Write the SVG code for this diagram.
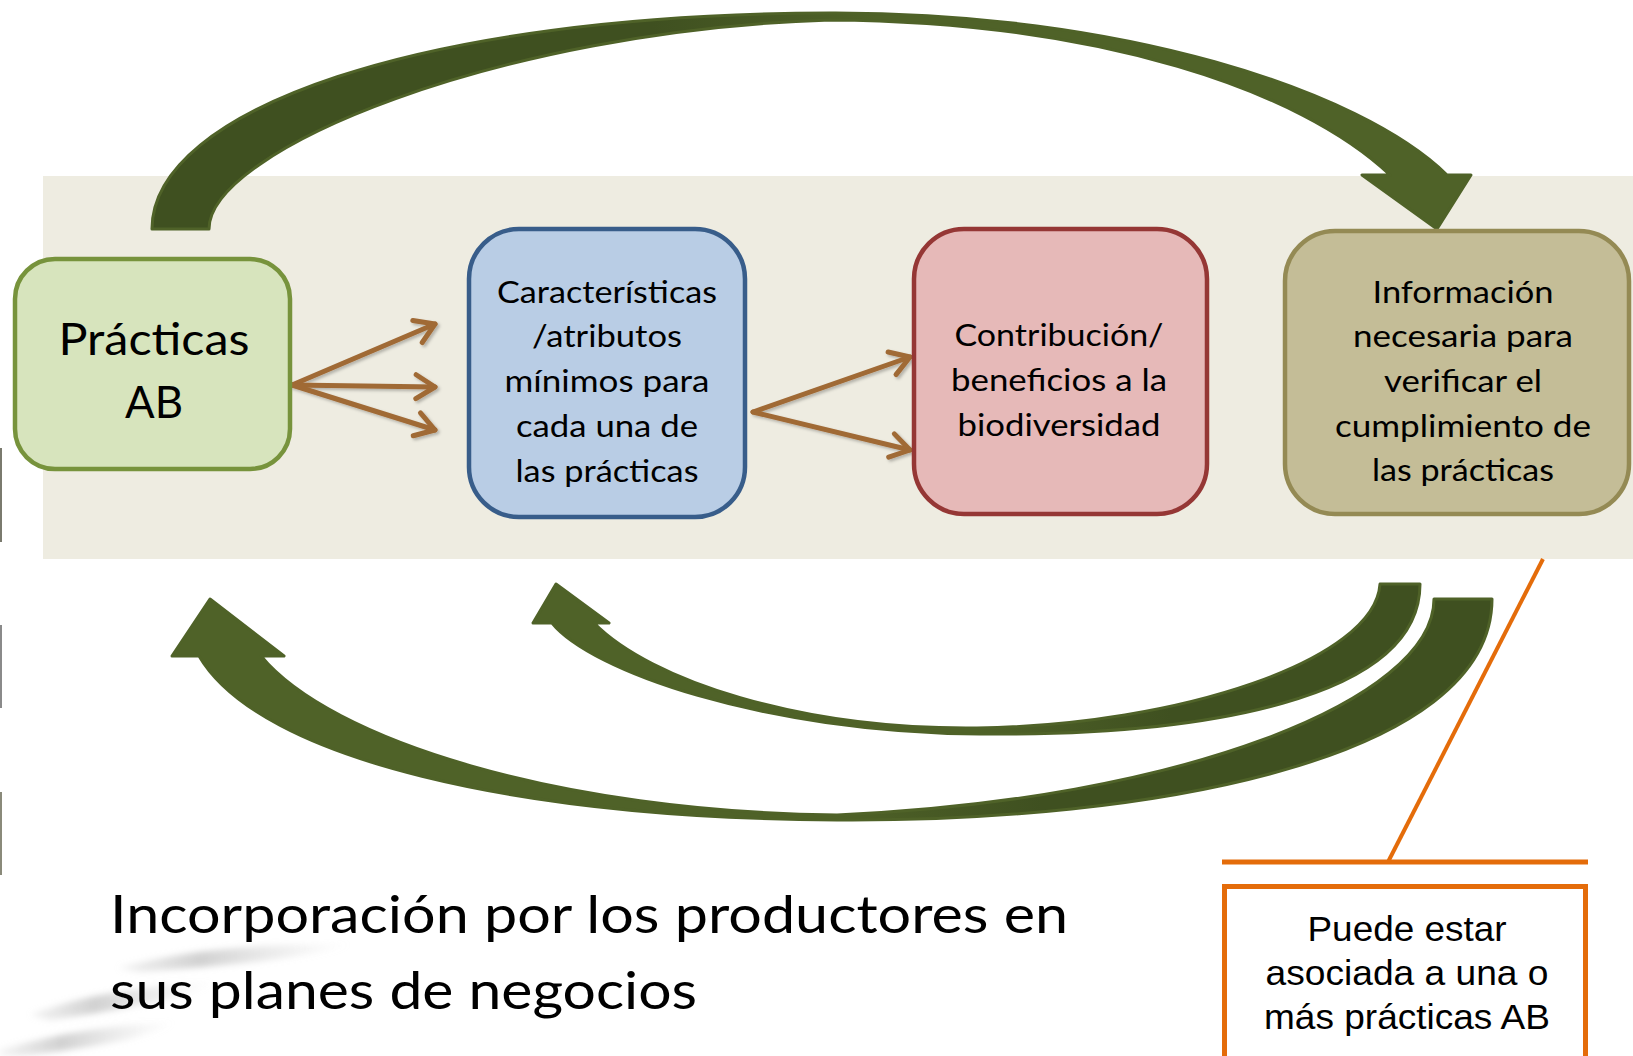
<svg xmlns="http://www.w3.org/2000/svg" width="1633" height="1056" viewBox="0 0 1633 1056">
<style>
.box{stroke-width:4.5}
.t{font-family:Lato,"Open Sans","Liberation Sans",sans-serif;fill:#000;text-anchor:middle}
.bt{font-size:30px}
.big{font-size:45px}
.cap{font-family:Lato,"Open Sans","Liberation Sans",sans-serif;font-size:53px;fill:#000}
.co{font-family:"Liberation Sans",Arial,sans-serif;font-size:35px;fill:#000;text-anchor:middle}
.br{stroke:#a06a36;stroke-width:5;fill:none;stroke-linecap:round}
.or{stroke:#e46c0a;fill:none}
.ga{stroke:#4f6228;stroke-width:3;stroke-linejoin:round}
</style>
<defs>
<marker id="chev" markerUnits="userSpaceOnUse" viewBox="-26 -16 30 32" refX="0" refY="0" markerWidth="30" markerHeight="32" orient="auto">
<path d="M-19,-12 L0,0 L-19,12" fill="none" stroke="#a06a36" stroke-width="5" stroke-linecap="round" stroke-linejoin="round"/>
</marker>
<filter id="sh" x="-10%" y="-10%" width="130%" height="130%">
<feDropShadow dx="2" dy="2" stdDeviation="1.5" flood-color="#000" flood-opacity="0.25"/>
</filter>
<filter id="blur" x="-20%" y="-50%" width="140%" height="200%">
<feGaussianBlur stdDeviation="3"/>
</filter>
<linearGradient id="gTop" gradientUnits="userSpaceOnUse" x1="150" y1="0" x2="1470" y2="0">
<stop offset="0" stop-color="#3f5020"/><stop offset="0.38" stop-color="#3f5020"/><stop offset="0.55" stop-color="#4f6228"/><stop offset="1" stop-color="#4f6228"/>
</linearGradient>
<linearGradient id="gLow1" gradientUnits="userSpaceOnUse" x1="170" y1="0" x2="1491" y2="0">
<stop offset="0" stop-color="#4f6228"/><stop offset="0.5" stop-color="#4f6228"/><stop offset="0.66" stop-color="#3f5020"/><stop offset="1" stop-color="#3f5020"/>
</linearGradient>
<linearGradient id="gLow2" gradientUnits="userSpaceOnUse" x1="533" y1="0" x2="1419" y2="0">
<stop offset="0" stop-color="#4f6228"/><stop offset="0.5" stop-color="#4f6228"/><stop offset="0.72" stop-color="#3f5020"/><stop offset="1" stop-color="#3f5020"/>
</linearGradient>
<linearGradient id="gSw" x1="0" y1="0" x2="1" y2="0">
<stop offset="0" stop-color="#c8c8c8" stop-opacity="0.2"/><stop offset="0.35" stop-color="#bdbdbd" stop-opacity="0.7"/><stop offset="1" stop-color="#d8d8d8" stop-opacity="0"/>
</linearGradient>
</defs>

<rect x="0" y="0" width="1633" height="1056" fill="#fff"/>

<g id="background">
<rect x="43" y="176" width="1590" height="383" fill="#eeece1"/>
<g filter="url(#blur)">
<path d="M118,968 C180,950 260,944 352,944 C320,956 230,966 140,972 Z" fill="url(#gSw)"/>
<path d="M30,1015 C80,995 150,985 215,982 C190,998 120,1010 50,1020 Z" fill="url(#gSw)"/>
<path d="M0,1050 C50,1035 110,1025 175,1022 C150,1038 90,1048 20,1056 L0,1056 Z" fill="url(#gSw)"/>
</g>
<rect x="0" y="448" width="2" height="94" fill="#7a7a6e"/>
<rect x="0" y="625" width="2" height="83" fill="#8a8a8a"/>
<rect x="0" y="792" width="2" height="83" fill="#8a8a7a"/>
</g>

<g id="connectors">
<path id="arrow-top" class="ga" fill="url(#gTop)" d="M152,229 C152,110 420,14 830,13 C1120,12 1360,90 1447,175 L1471,175 L1437,229 L1362,175 L1390,175 C1300,90 1100,22 830,20 C500,30 209,150 209,229 Z"/>
<path id="arrow-low-outer" class="ga" fill="url(#gLow1)" d="M1492,599 C1492,760 1150,822 837,820 C520,818 260,760 199,656 L172,656 L210,599 L284,656 L261,656 C330,740 560,812 837,815 C1180,800 1434,700 1434,599 Z"/>
<path id="arrow-low-inner" class="ga" fill="url(#gLow2)" d="M1420,584 C1420,700 1200,736 980,734 C760,732 590,670 552,623 L533,623 L556,584 L609,623 L594,623 C650,680 800,730 977,728 C1180,725 1375,660 1380,584 Z"/>
<g filter="url(#sh)">
<line class="br" x1="292" y1="385" x2="435" y2="324" marker-end="url(#chev)"/>
<line class="br" x1="292" y1="385" x2="435" y2="387" marker-end="url(#chev)"/>
<line class="br" x1="292" y1="385" x2="435" y2="430" marker-end="url(#chev)"/>
<line class="br" x1="753" y1="412" x2="910" y2="357" marker-end="url(#chev)"/>
<line class="br" x1="753" y1="412" x2="910" y2="450" marker-end="url(#chev)"/>
</g>
<line class="or" stroke-width="4" x1="1543" y1="559" x2="1388" y2="862"/>
<line class="or" stroke-width="5" x1="1222" y1="862" x2="1588" y2="862"/>
</g>

<g id="node-practicas">
<rect class="box" x="15" y="259" width="275" height="210" rx="40" fill="#d7e4bd" stroke="#77933c"/>
<text class="t big" x="154" y="355" textLength="191" lengthAdjust="spacingAndGlyphs">Prácticas</text>
<text class="t big" x="154" y="418" textLength="58" lengthAdjust="spacingAndGlyphs">AB</text>
</g>

<g id="node-caracteristicas">
<rect class="box" x="469" y="229" width="276" height="288" rx="50" fill="#b9cde5" stroke="#385d8a"/>
<text class="t bt" x="607" y="303" textLength="220" lengthAdjust="spacingAndGlyphs">Características</text>
<text class="t bt" x="607" y="347" textLength="150" lengthAdjust="spacingAndGlyphs">/atributos</text>
<text class="t bt" x="607" y="392" textLength="205" lengthAdjust="spacingAndGlyphs">mínimos para</text>
<text class="t bt" x="607" y="437" textLength="182" lengthAdjust="spacingAndGlyphs">cada una de</text>
<text class="t bt" x="607" y="482" textLength="183" lengthAdjust="spacingAndGlyphs">las prácticas</text>
</g>

<g id="node-contribucion">
<rect class="box" x="914" y="229" width="293" height="285" rx="50" fill="#e6b9b8" stroke="#953735"/>
<text class="t bt" x="1059" y="346" textLength="209" lengthAdjust="spacingAndGlyphs">Contribución/</text>
<text class="t bt" x="1059" y="391" textLength="216" lengthAdjust="spacingAndGlyphs">beneficios a la</text>
<text class="t bt" x="1059" y="436" textLength="203" lengthAdjust="spacingAndGlyphs">biodiversidad</text>
</g>

<g id="node-informacion">
<rect class="box" x="1285" y="231" width="344" height="283" rx="50" fill="#c4bd97" stroke="#948a54"/>
<text class="t bt" x="1463" y="303" textLength="181" lengthAdjust="spacingAndGlyphs">Información</text>
<text class="t bt" x="1463" y="347" textLength="220" lengthAdjust="spacingAndGlyphs">necesaria para</text>
<text class="t bt" x="1463" y="392" textLength="158" lengthAdjust="spacingAndGlyphs">verificar el</text>
<text class="t bt" x="1463" y="437" textLength="256" lengthAdjust="spacingAndGlyphs">cumplimiento de</text>
<text class="t bt" x="1463" y="481" textLength="182" lengthAdjust="spacingAndGlyphs">las prácticas</text>
</g>

<g id="caption">
<text class="cap" x="110" y="933" textLength="958" lengthAdjust="spacingAndGlyphs">Incorporación por los productores en</text>
<text class="cap" x="110" y="1009" textLength="587" lengthAdjust="spacingAndGlyphs">sus planes de negocios</text>
</g>

<g id="callout">
<rect class="or" stroke-width="5" x="1224.5" y="886.5" width="361" height="200" fill="#fff"/>
<text class="co" x="1407" y="941" textLength="199" lengthAdjust="spacingAndGlyphs">Puede estar</text>
<text class="co" x="1407" y="985" textLength="283" lengthAdjust="spacingAndGlyphs">asociada a una o</text>
<text class="co" x="1407" y="1029" textLength="286" lengthAdjust="spacingAndGlyphs">más prácticas AB</text>
</g>
</svg>
